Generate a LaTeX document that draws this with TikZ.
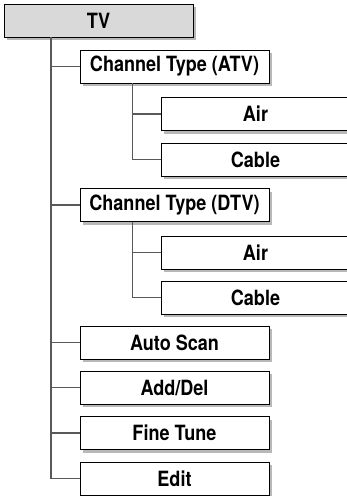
\documentclass[tikz,border=0pt]{standalone}
\usepackage{fontspec}
\setmainfont[FakeStretch=0.86]{TeX Gyre Heros}
\usetikzlibrary{positioning,calc,shadows}
\tikzstyle{item} = [draw, fill=white, line width=0.9pt, rectangle, minimum height=33pt, minimum width=189pt, inner sep=0pt, font=\bfseries\fontsize{21}{24}\selectfont, drop shadow={shadow xshift=3pt, shadow yshift=-3pt, fill=black!28, opacity=1}]
\tikzstyle{root} = [item, fill=black!15]
\tikzstyle{link} = [draw=black!65, line width=1.2pt]

\begin{document}
\begin{tikzpicture}[x=1pt, y=1pt, node distance=45.5pt]
    \useasboundingbox (0,0) rectangle (347,-496);
    % Menu items
    \node [root] (tv) at (98.5,-20.5) {TV};
    \node [item, below of=tv, node distance=46pt, xshift=76pt] (atv) {Channel Type (ATV)};
    \node [item, below of=atv, node distance=47.5pt, xshift=81pt] (atvair) {Air};
    \node [item, below of=atvair] (atvcable) {Cable};
    \node [item, below of=atvcable, xshift=-81pt] (dtv) {Channel Type (DTV)};
    \node [item, below of=dtv, node distance=47.5pt, xshift=81pt] (dtvair) {Air};
    \node [item, below of=dtvair, node distance=45pt] (dtvcable) {Cable};
    \node [item, below of=dtvcable, node distance=45pt, xshift=-81pt] (autoscan) {Auto Scan};
    \node [item, below of=autoscan, node distance=45pt] (adddel) {Add/Del};
    \node [item, below of=adddel] (finetune) {Fine Tune};
    \node [item, below of=finetune] (edit) {Edit};

    % Connections
    \coordinate (tvtrunk) at ($(tv.south west)+(47.5,0)$);
    \coordinate (atvtrunk) at ($(atv.south west)+(53,0)$);
    \coordinate (dtvtrunk) at ($(dtv.south west)+(53,0)$);
    \foreach \n in {atv,dtv,autoscan,adddel,finetune,edit}
        \draw [link] (tvtrunk) |- (\n.west);
    \foreach \n in {atvair,atvcable}
        \draw [link] (atvtrunk) |- (\n.west);
    \foreach \n in {dtvair,dtvcable}
        \draw [link] (dtvtrunk) |- (\n.west);
\end{tikzpicture}
\end{document}
